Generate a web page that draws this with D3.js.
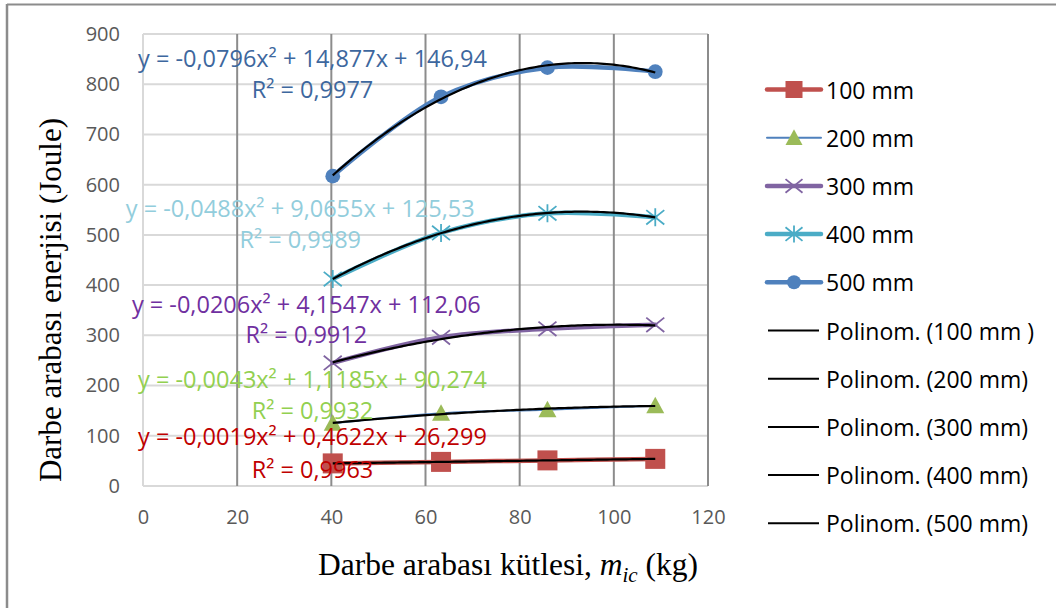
<!DOCTYPE html>
<html><head><meta charset="utf-8">
<script src="https://cdn.jsdelivr.net/npm/d3@7"></script>
<style>
html,body{margin:0;padding:0;background:#fff;}
svg{display:block;}
</style></head>
<body>
<svg id="chart" width="1056" height="608"></svg>
<script>
// ---- data ----
const massKg = [40.3, 63.3, 85.9, 108.8];
const series100 = [45, 48, 51, 54];
const series200 = [125, 145, 152, 160];
const series300 = [245, 296, 313, 321];
const series400 = [412, 504, 543, 535];
const series500 = [617, 775, 833, 825];
const seriesNames = ["100 mm", "200 mm", "300 mm", "400 mm", "500 mm"];
const trendNames = ["Polinom. (100 mm )", "Polinom. (200 mm)", "Polinom. (300 mm)", "Polinom. (400 mm)", "Polinom. (500 mm)"];
const eqLabels = ["y = -0,0019x² + 0,4622x + 26,299", "y = -0,0043x² + 1,1185x + 90,274", "y = -0,0206x² + 4,1547x + 112,06", "y = -0,0488x² + 9,0655x + 125,53", "y = -0,0796x² + 14,877x + 146,94"];
const r2Labels = ["R² = 0,9963", "R² = 0,9932", "R² = 0,9912", "R² = 0,9989", "R² = 0,9977"];
const xTicks = [0, 20, 40, 60, 80, 100, 120];
const yTicks = [0, 100, 200, 300, 400, 500, 600, 700, 800, 900];

const allSeries = [series100, series200, series300, series400, series500];
const lineColors = ["#C0504D", "#4F81BD", "#8064A2", "#4BACC6", "#4F81BD"];
const markerColors = ["#C0504D", "#9BBB59", "#8064A2", "#4BACC6", "#4F81BD"];
const lineWidths = [4.5, 2, 4.5, 4.5, 4.5];
const markerTypes = ["square", "triangle", "x", "star", "circle"];
const labelColors = ["#C00000", "#92D050", "#7030A0", "#92CDDC", "#3D679E"];
// label anchor positions in data units (x center, y for equation, y for R²)
const labelPos = [
  {x: 36.0, eq: 99, r2: 34},
  {x: 36.0, eq: 214, r2: 151},
  {x: 34.7, eq: 363, r2: 302},
  {x: 33.4, eq: 554, r2: 492},
  {x: 36.0, eq: 853, r2: 791}
];

const svg = d3.select("#chart");
const L = 143, R = 708, T = 34, B = 486;
const x = d3.scaleLinear().domain([0, 120]).range([L, R]);
const y = d3.scaleLinear().domain([0, 900]).range([B, T]);

// outer frame
svg.append("line").attr("x1", 7).attr("x2", 1056).attr("y1", 4.5).attr("y2", 4.5).attr("stroke", "#8c8c8c").attr("stroke-width", 2);
svg.append("line").attr("x1", 7).attr("x2", 7).attr("y1", 4).attr("y2", 608).attr("stroke", "#8c8c8c").attr("stroke-width", 2.5);

// horizontal gridlines
svg.append("g").selectAll("line").data(yTicks).join("line")
  .attr("x1", L).attr("x2", R).attr("y1", d => y(d)).attr("y2", d => y(d))
  .attr("stroke", "#d9d9d9").attr("stroke-width", 2);
// vertical gridlines
svg.append("g").selectAll("line").data(xTicks.slice(1)).join("line")
  .attr("x1", d => x(d)).attr("x2", d => x(d)).attr("y1", T).attr("y2", B)
  .attr("stroke", "#8c8c8c").attr("stroke-width", 2);
svg.append("line").attr("x1", L).attr("x2", L).attr("y1", T).attr("y2", B).attr("stroke", "#d9d9d9").attr("stroke-width", 2);

// axes labels via d3 axes
const yAxis = svg.append("g").attr("transform", `translate(${L},0)`)
  .call(d3.axisLeft(y).tickValues(yTicks).tickSize(0).tickPadding(23));
const xAxis = svg.append("g").attr("transform", `translate(0,${B})`)
  .call(d3.axisBottom(x).tickValues(xTicks).tickSize(0).tickPadding(24));
[yAxis, xAxis].forEach(a => {
  a.select(".domain").remove();
  a.selectAll("text").attr("fill", "#595959").style("font-family", "'Open Sans', sans-serif").style("font-size", "20px");
});

// series lines
const lineGen = d3.line().x(d => x(d[0])).y(d => y(d[1])).curve(d3.curveCatmullRom.alpha(0.5));
allSeries.forEach((s, i) => {
  const pts = massKg.map((m, j) => [m, s[j]]);
  svg.append("path").datum(pts).attr("d", lineGen).attr("fill", "none")
    .attr("stroke", lineColors[i]).attr("stroke-width", lineWidths[i]).attr("stroke-linecap", "round");
});

function drawMarker(g, type, cx, cy, color, size) {
  const h = size / 2;
  if (type === "square") {
    g.append("rect").attr("x", cx - h).attr("y", cy - h).attr("width", size).attr("height", size).attr("fill", color);
  } else if (type === "triangle") {
    g.append("path").attr("d", `M${cx},${cy - h}L${cx + h},${cy + h * 0.85}L${cx - h},${cy + h * 0.85}Z`).attr("fill", color);
  } else if (type === "circle") {
    g.append("circle").attr("cx", cx).attr("cy", cy).attr("r", h * 0.82).attr("fill", color);
  } else if (type === "x") {
    g.append("path").attr("d", `M${cx - h},${cy - h * 0.8}L${cx + h},${cy + h * 0.8}M${cx - h},${cy + h * 0.8}L${cx + h},${cy - h * 0.8}`)
      .attr("stroke", color).attr("stroke-width", 1.8).attr("fill", "none");
  } else if (type === "star") {
    g.append("path").attr("d", `M${cx - h},${cy - h * 0.8}L${cx + h},${cy + h * 0.8}M${cx - h},${cy + h * 0.8}L${cx + h},${cy - h * 0.8}M${cx},${cy - h}L${cx},${cy + h}`)
      .attr("stroke", color).attr("stroke-width", 1.8).attr("fill", "none");
  }
}

const markerG = svg.append("g");
allSeries.forEach((s, i) => {
  massKg.forEach((m, j) => drawMarker(markerG, markerTypes[i], x(m), y(s[j]), markerColors[i], i === 0 ? 20 : 18));
});

// polynomial (order 2) least-squares trendlines computed from data
function quadFit(xs, ys) {
  let S = [0, 0, 0, 0, 0], T2 = [0, 0, 0];
  xs.forEach((xv, k) => {
    for (let p = 0; p < 5; p++) S[p] += Math.pow(xv, p);
    for (let p = 0; p < 3; p++) T2[p] += ys[k] * Math.pow(xv, p);
  });
  const A = [[S[0], S[1], S[2], T2[0]], [S[1], S[2], S[3], T2[1]], [S[2], S[3], S[4], T2[2]]];
  for (let c = 0; c < 3; c++) {
    for (let r = c + 1; r < 3; r++) {
      const f = A[r][c] / A[c][c];
      for (let k = c; k < 4; k++) A[r][k] -= f * A[c][k];
    }
  }
  const sol = [0, 0, 0];
  for (let r = 2; r >= 0; r--) {
    let v = A[r][3];
    for (let k = r + 1; k < 3; k++) v -= A[r][k] * sol[k];
    sol[r] = v / A[r][r];
  }
  return sol; // c0, c1, c2
}
const trendLine = d3.line().x(d => x(d[0])).y(d => y(d[1]));
const xMin = d3.min(massKg), xMax = d3.max(massKg);
allSeries.forEach(s => {
  const c = quadFit(massKg, s);
  const pts = d3.range(0, 101).map(k => {
    const xv = xMin + (xMax - xMin) * k / 100;
    return [xv, c[0] + c[1] * xv + c[2] * xv * xv];
  });
  svg.append("path").datum(pts).attr("d", trendLine).attr("fill", "none").attr("stroke", "#000").attr("stroke-width", 2.2);
});

// equation labels
allSeries.forEach((s, i) => {
  const p = labelPos[i];
  svg.append("text").attr("x", x(p.x)).attr("y", y(p.eq)).attr("text-anchor", "middle").attr("dominant-baseline", "central")
    .attr("fill", labelColors[i]).style("font-family", "'Open Sans', sans-serif").style("font-size", "23.5px").text(eqLabels[i]);
  svg.append("text").attr("x", x(p.x)).attr("y", y(p.r2)).attr("text-anchor", "middle").attr("dominant-baseline", "central")
    .attr("fill", labelColors[i]).style("font-family", "'Open Sans', sans-serif").style("font-size", "23.5px").text(r2Labels[i]);
});

// axis titles
svg.append("text").attr("transform", "translate(50,300) rotate(-90)").attr("text-anchor", "middle").attr("dominant-baseline", "central")
  .style("font-family", "'Liberation Serif', 'Times New Roman', serif").style("font-size", "31px").attr("fill", "#000")
  .text("Darbe arabası enerjisi (Joule)");
const xt = svg.append("text").attr("x", 508).attr("y", 575).attr("text-anchor", "middle")
  .style("font-family", "'Liberation Serif', 'Times New Roman', serif").style("font-size", "31.5px").attr("fill", "#000");
xt.append("tspan").text("Darbe arabası kütlesi, ");
xt.append("tspan").style("font-style", "italic").text("m");
xt.append("tspan").style("font-style", "italic").style("font-size", "21px").attr("dy", 7).text("ic");
xt.append("tspan").attr("dy", -7).text(" (kg)");

// legend
const legY0 = 89.5, legStep = 48.2;
const leg = svg.append("g");
seriesNames.forEach((n, i) => {
  const ly = legY0 + i * legStep;
  leg.append("line").attr("x1", 767).attr("x2", 821).attr("y1", ly).attr("y2", ly)
    .attr("stroke", lineColors[i]).attr("stroke-width", lineWidths[i]).attr("stroke-linecap", "round");
  drawMarker(leg, markerTypes[i], 794, ly, markerColors[i], 17);
  leg.append("text").attr("x", 826).attr("y", ly).attr("dominant-baseline", "central")
    .style("font-family", "'Open Sans', sans-serif").style("font-size", "23px").attr("fill", "#000").text(n);
});
trendNames.forEach((n, i) => {
  const ly = legY0 + (i + 5) * legStep;
  leg.append("line").attr("x1", 768).attr("x2", 819).attr("y1", ly).attr("y2", ly).attr("stroke", "#000").attr("stroke-width", 2);
  leg.append("text").attr("x", 826).attr("y", ly).attr("dominant-baseline", "central")
    .style("font-family", "'Open Sans', sans-serif").style("font-size", "23px").attr("fill", "#000").text(n);
});
</script>
</body></html>
